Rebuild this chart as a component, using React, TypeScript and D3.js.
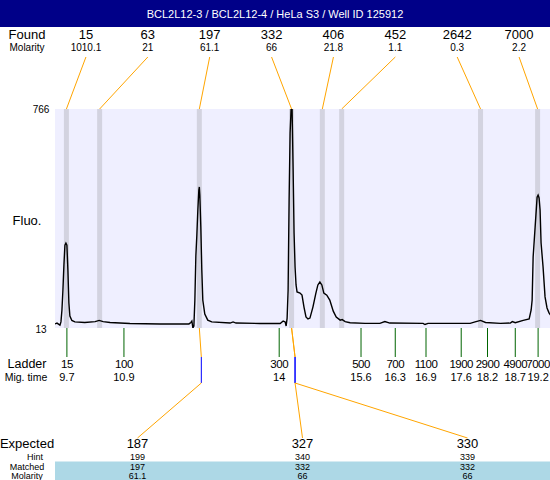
import * as d3 from "d3";

const title = "BCL2L12-3 / BCL2L12-4 / HeLa S3 / Well ID 125912";

// found peaks
const foundSizes = ["15", "63", "197", "332", "406", "452", "2642", "7000"];
const foundMolarity = ["1010.1", "21", "61.1", "66", "21.8", "1.1", "0.3", "2.2"];
const foundTimes = [9.69, 10.36, 12.37, 14.23, 14.85, 15.24, 18.04, 19.19];

// ladder
const ladderSizes = ["15", "100", "300", "500", "700", "1100", "1900", "2900", "4900", "7000"];
const ladderMigLabels = ["9.7", "10.9", "14", "15.6", "16.3", "16.9", "17.6", "18.2", "18.7", "19.2"];
const ladderTimes = [9.7, 10.85, 13.98, 15.63, 16.32, 16.94, 17.65, 18.18, 18.74, 19.2];

// expected fragments
const expectedSizes = ["187", "327", "330"];
const hintSizes = ["199", "340", "339"];
const hintTimes = [12.41, 14.3, 14.3];
const matchedSizes = ["197", "332", "332"];
const matchedMolarity = ["61.1", "66", "66"];
const matchedFound = [2, 3, 3];

const fluoMin = 13;
const fluoMax = 766;

// electropherogram: [migration time, fluorescence]
const trace: [number, number][] = [
  [9.46, 27], [9.5, 30], [9.56, 23], [9.58, 34], [9.6, 75], [9.62, 144],
  [9.64, 230], [9.66, 298], [9.68, 305], [9.7, 298], [9.72, 212], [9.74, 99],
  [9.76, 54], [9.8, 39], [9.86, 34], [10.06, 32], [10.27, 35], [10.35, 39],
  [10.43, 35], [10.57, 32], [10.97, 28.5], [11.58, 27], [12.16, 27], [12.2, 32],
  [12.22, 37], [12.24, 13], [12.26, 20], [12.28, 109], [12.3, 261], [12.32, 333],
  [12.34, 419], [12.36, 487], [12.37, 498], [12.38, 470], [12.4, 360], [12.42, 212],
  [12.44, 109], [12.48, 61], [12.54, 40], [12.62, 34], [12.99, 30], [13.05, 34],
  [13.11, 30], [13.59, 28.5], [14.0, 28.5], [14.06, 37], [14.1, 34], [14.12, 20],
  [14.14, 47], [14.16, 144], [14.18, 453], [14.2, 683], [14.22, 766], [14.24, 766],
  [14.26, 567], [14.28, 340], [14.3, 223], [14.32, 161], [14.34, 137], [14.4, 133],
  [14.44, 126], [14.48, 85], [14.52, 51], [14.56, 44], [14.6, 47], [14.66, 85],
  [14.72, 133], [14.76, 161], [14.8, 171], [14.84, 161], [14.88, 133], [14.94, 126],
  [15.0, 109], [15.07, 71], [15.13, 51], [15.21, 40], [15.25, 42], [15.31, 35],
  [15.41, 31], [15.71, 29], [16.01, 29], [16.11, 35], [16.21, 30], [16.88, 29],
  [16.92, 25], [16.98, 29], [17.83, 29], [17.93, 34], [18.04, 39], [18.14, 32],
  [18.44, 29], [18.64, 30], [18.68, 35], [18.74, 31], [18.9, 39], [19.02, 44],
  [19.06, 75], [19.08, 109], [19.1, 257], [19.14, 360], [19.18, 463], [19.2, 470],
  [19.22, 460], [19.24, 419], [19.26, 305], [19.3, 223], [19.34, 120], [19.38, 82],
  [19.42, 65], [19.48, 51],
];

const W = 550;
const H = 480;
const plot = { left: 55, right: 550, top: 109, bottom: 328 };
const FONT = "'Liberation Sans', Arial, sans-serif";
const ORANGE = "#FFA500";

export default function App() {
  const x = d3.scaleLinear().domain([9.46, 19.44]).range([plot.left, plot.right]);
  const y = d3.scaleLinear().domain([fluoMin, fluoMax]).range([plot.bottom, plot.top]);

  const foundCols = d3
    .scaleBand<number>()
    .domain(foundSizes.map((_, i) => i))
    .range([plot.left, plot.right]);
  const expCols = d3
    .scaleBand<number>()
    .domain(expectedSizes.map((_, i) => i))
    .range([plot.left, plot.right]);
  const fcx = (i: number) => (foundCols(i) ?? 0) + foundCols.bandwidth() / 2;
  const ecx = (i: number) => (expCols(i) ?? 0) + expCols.bandwidth() / 2;

  const line = d3
    .line<[number, number]>()
    .x((d) => x(d[0]))
    .y((d) => y(d[1]));

  const ladderTop = plot.bottom;
  const ladderBottom = 357;
  const blueBottom = 383;
  const expTop = 438;

  return (
    <svg
      width={W}
      height={H}
      style={{ position: "absolute", left: 0, top: 0, fontFamily: FONT }}
    >
      <defs>
        <clipPath id="plotClip">
          <rect
            x={plot.left}
            y={plot.top}
            width={plot.right - plot.left}
            height={plot.bottom - plot.top}
          />
        </clipPath>
      </defs>
      <rect width={W} height={H} fill="#fff" />

      {/* title bar */}
      <rect x={0} y={0} width={W} height={27} fill="#000088" />
      <text x={W / 2} y={18} fill="#fff" fontSize={11} textAnchor="middle">
        {title}
      </text>

      {/* found row */}
      <text x={27} y={39} fontSize={13} textAnchor="middle">Found</text>
      <text x={27} y={51} fontSize={10} textAnchor="middle">Molarity</text>
      {foundSizes.map((s, i) => (
        <g key={"f" + i}>
          <text x={fcx(i)} y={39} fontSize={13} textAnchor="middle">{s}</text>
          <text x={fcx(i)} y={51} fontSize={10} textAnchor="middle">{foundMolarity[i]}</text>
          <line
            x1={fcx(i)}
            y1={57}
            x2={x(foundTimes[i])}
            y2={plot.top}
            stroke={ORANGE}
            strokeWidth={1}
          />
        </g>
      ))}

      {/* plot area */}
      <rect
        x={plot.left}
        y={plot.top}
        width={plot.right - plot.left}
        height={plot.bottom - plot.top}
        fill="#EFEFFF"
      />
      {foundTimes.map((t, i) => (
        <rect
          key={"b" + i}
          x={x(t) - 2.5}
          y={plot.top}
          width={5}
          height={plot.bottom - plot.top}
          fill="#D3D3E0"
        />
      ))}
      <path
        d={line(trace) ?? ""}
        fill="none"
        stroke="#000"
        strokeWidth={1.4}
        clipPath="url(#plotClip)"
      />

      {/* y labels */}
      <text x={41} y={113} fontSize={10} textAnchor="middle">{fluoMax}</text>
      <text x={41} y={333} fontSize={10} textAnchor="middle">{fluoMin}</text>
      <text x={27} y={225} fontSize={13} textAnchor="middle">Fluo.</text>

      {/* ladder */}
      <text x={27} y={368} fontSize={12.5} textAnchor="middle">Ladder</text>
      <text x={26} y={381} fontSize={10.5} textAnchor="middle">Mig. time</text>
      {ladderTimes.map((t, i) => (
        <g key={"l" + i}>
          <line
            x1={x(t)}
            x2={x(t)}
            y1={ladderTop}
            y2={ladderBottom}
            stroke="#006400"
            strokeWidth={1}
          />
          <text x={x(t)} y={368} fontSize={11.5} letterSpacing={-0.5} textAnchor="middle">
            {ladderSizes[i]}
          </text>
          <text x={x(t)} y={381} fontSize={11} textAnchor="middle">{ladderMigLabels[i]}</text>
        </g>
      ))}

      {/* expected links */}
      {expectedSizes.map((_, i) => {
        const px = x(foundTimes[matchedFound[i]]);
        const hx = x(hintTimes[i]);
        return (
          <g key={"e" + i}>
            <line x1={px} y1={plot.bottom} x2={hx} y2={ladderBottom} stroke={ORANGE} strokeWidth={1} />
            <line x1={hx} y1={ladderBottom} x2={hx} y2={blueBottom} stroke="#0000FF" strokeWidth={1} />
            <line x1={hx} y1={blueBottom} x2={ecx(i)} y2={expTop} stroke={ORANGE} strokeWidth={1} />
          </g>
        );
      })}

      {/* expected table */}
      <rect x={plot.left} y={461.5} width={plot.right - plot.left} height={H - 461.5} fill="#ADD8E6" />
      <text x={27} y={448} fontSize={13} textAnchor="middle">Expected</text>
      <text x={35} y={459.5} fontSize={9} textAnchor="middle">Hint</text>
      <text x={27} y={469.5} fontSize={9} textAnchor="middle">Matched</text>
      <text x={27} y={479} fontSize={9} textAnchor="middle">Molarity</text>
      {expectedSizes.map((s, i) => (
        <g key={"t" + i}>
          <text x={ecx(i)} y={448} fontSize={13} textAnchor="middle">{s}</text>
          <text x={ecx(i)} y={459.5} fontSize={9} textAnchor="middle">{hintSizes[i]}</text>
          <text x={ecx(i)} y={469.5} fontSize={9} textAnchor="middle">{matchedSizes[i]}</text>
          <text x={ecx(i)} y={479} fontSize={9} textAnchor="middle">{matchedMolarity[i]}</text>
        </g>
      ))}
    </svg>
  );
}
